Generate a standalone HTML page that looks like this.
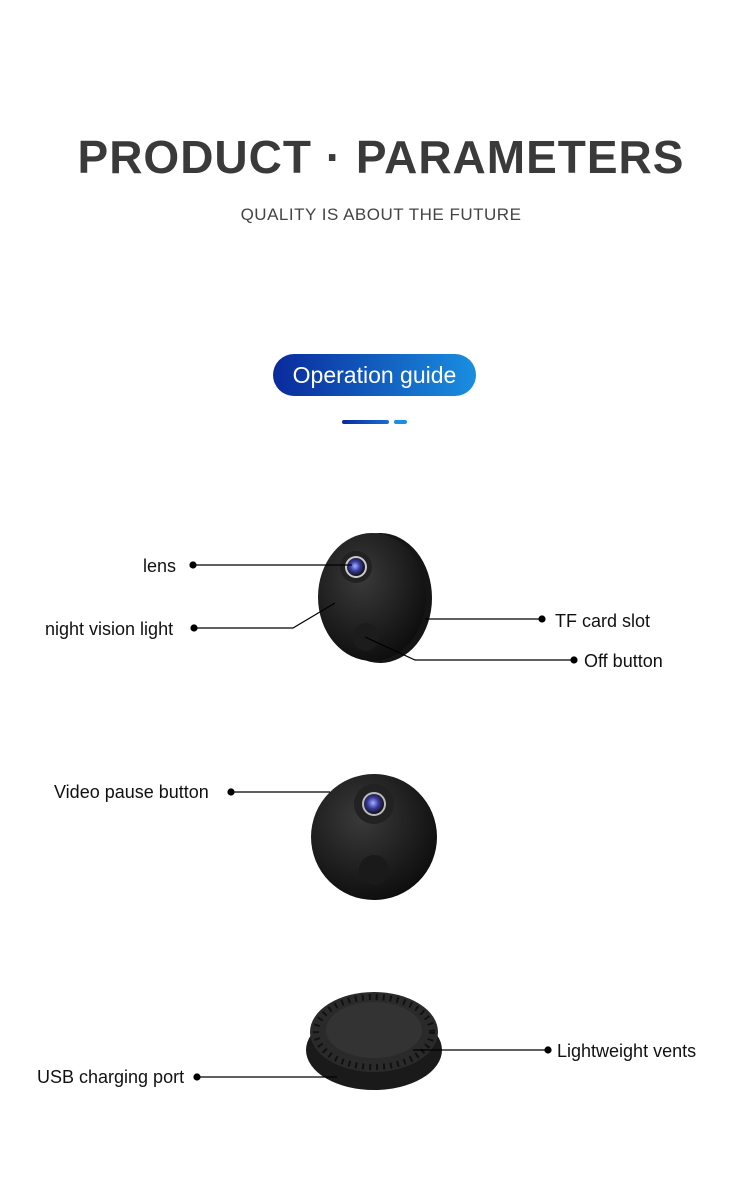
<!DOCTYPE html>
<html><head><style>
body{margin:0;width:750px;height:1178px;background:#fff;position:relative;overflow:hidden;font-family:"Liberation Sans",sans-serif}
.t{position:absolute;white-space:nowrap}
.lbl{position:absolute;font-size:18px;color:#111;white-space:nowrap;line-height:20px}
</style></head><body>
<div class="t" style="left:0;width:762px;text-align:center;top:130px;font-size:46px;font-weight:bold;color:#3a3a3a;letter-spacing:1px">PRODUCT · PARAMETERS</div>
<div class="t" style="left:0;width:762px;text-align:center;top:205px;font-size:17px;color:#444;letter-spacing:0.5px">QUALITY IS ABOUT THE FUTURE</div>
<div class="t" style="left:273px;top:354px;width:203px;height:42px;border-radius:21px;background:linear-gradient(90deg,#0a2a9c,#1a8ee0);color:#fff;font-size:23px;line-height:42px;text-align:center">Operation guide</div>
<div class="t" style="left:342px;top:420px;width:47px;height:4px;border-radius:2px;background:linear-gradient(90deg,#0a2a9c,#1a6ed0)"></div>
<div class="t" style="left:394px;top:420px;width:13px;height:4px;border-radius:2px;background:#1a8ee0"></div>

<svg width="750" height="1178" style="position:absolute;left:0;top:0">
<defs>
<radialGradient id="bd" cx="40%" cy="35%" r="70%"><stop offset="0" stop-color="#3a3a3a"/><stop offset="1" stop-color="#0c0c0c"/></radialGradient>
<radialGradient id="ln" cx="45%" cy="45%" r="55%"><stop offset="0" stop-color="#9fb4ff"/><stop offset="0.5" stop-color="#3a3aa0"/><stop offset="1" stop-color="#111"/></radialGradient>
</defs>
<ellipse cx="380" cy="598" rx="52" ry="65" fill="#151515"/>
<ellipse cx="372" cy="597" rx="54" ry="64" fill="url(#bd)"/>
<circle cx="356" cy="567" r="16" fill="#222"/>
<circle cx="356" cy="567" r="11" fill="#ccc"/>
<circle cx="356" cy="567" r="9" fill="url(#ln)"/>
<ellipse cx="366" cy="637" rx="13" ry="14" fill="#1c1c1c"/>
<circle cx="374" cy="837" r="63" fill="url(#bd)"/>
<circle cx="374" cy="804" r="20" fill="#222"/>
<circle cx="374" cy="804" r="12" fill="#bbb"/>
<circle cx="374" cy="804" r="10" fill="url(#ln)"/>
<circle cx="374" cy="870" r="15" fill="#1a1a1a"/>
<ellipse cx="374" cy="1050" rx="68" ry="40" fill="#1a1a1a"/>
<ellipse cx="374" cy="1032" rx="64" ry="40" fill="#2a2a2a"/>
<ellipse cx="374" cy="1030" rx="48" ry="28" fill="#333"/>
<ellipse cx="374" cy="1032" rx="58" ry="35" fill="none" stroke="#111" stroke-width="6" stroke-dasharray="2 5"/>
<g stroke="#000" stroke-width="1.2" fill="#000">
<line x1="193" y1="565" x2="352" y2="565"/><circle cx="193" cy="565" r="3"/>
<polyline points="194,628 293,628 335,603" fill="none"/><circle cx="194" cy="628" r="3"/>
<line x1="425" y1="619" x2="542" y2="619"/><circle cx="542" cy="619" r="3"/>
<polyline points="365,637 415,660 574,660" fill="none"/><circle cx="574" cy="660" r="3"/>
<line x1="231" y1="792" x2="330" y2="792"/><circle cx="231" cy="792" r="3"/>
<line x1="413" y1="1050" x2="548" y2="1050"/><circle cx="548" cy="1050" r="3"/>
<line x1="197" y1="1077" x2="337" y2="1077"/><circle cx="197" cy="1077" r="3"/>
</g>
</svg>
<div class="lbl" style="left:143px;top:556px">lens</div>
<div class="lbl" style="left:45px;top:619px">night vision light</div>
<div class="lbl" style="left:555px;top:611px">TF card slot</div>
<div class="lbl" style="left:584px;top:651px">Off button</div>
<div class="lbl" style="left:54px;top:782px">Video pause button</div>
<div class="lbl" style="left:557px;top:1041px">Lightweight vents</div>
<div class="lbl" style="left:37px;top:1067px">USB charging port</div>
</body></html>
